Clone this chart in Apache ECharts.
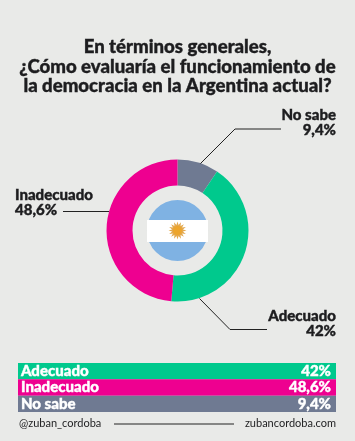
<!DOCTYPE html>
<html>
<head>
<meta charset="utf-8">
<script src="https://cdn.jsdelivr.net/npm/echarts@6/dist/echarts.min.js"></script>
<style>
html, body { margin: 0; padding: 0; background: #e9eae8; }
#main { width: 355px; height: 441px; }
</style>
</head>
<body>
<div id="main"></div>
<script>
const titleLines = ['En términos generales,', '¿Cómo evaluaría el funcionamiento de', 'la democracia en la Argentina actual?'];
const categories = ['Adecuado', 'Inadecuado', 'No sabe'];
const values = [42, 48.6, 9.4];
const valueLabels = ['42%', '48,6%', '9,4%'];
const colors = ['#00c98d', '#ee0090', '#6f7a92'];
// la dona arranca en "No sabe" y sigue en sentido horario
const pieOrder = [2, 0, 1];
const footerLeft = '@zuban_cordoba';
const footerRight = 'zubancordoba.com';

const font = 'Lato';
const ink = '#1d1d1f';
const cx = 177.5, cy = 230.5;

let myChart = echarts.init(document.getElementById('main'));

function leader(points) {
	return { type: 'polyline', shape: { points: points }, style: { stroke: '#222', lineWidth: 1, fill: null }, z: 5 };
}
function callout(x, y, align, name, val) {
	return {
		type: 'text', x: x, y: y, z: 5,
		style: { text: name + '\n' + val, font: '900 15px ' + font, fill: ink, stroke: ink, lineWidth: 0.4, align: align, lineHeight: 15 }
	};
}
// rayos del sol de la bandera
function sunRays() {
	let pts = [];
	for (let i = 0; i < 32; i++) {
		let a = i * Math.PI / 16, r = i % 2 ? 5.5 : 9;
		pts.push([cx + r * Math.cos(a), cy + r * Math.sin(a)]);
	}
	return pts;
}

let option = {
	backgroundColor: '#e9eae8',
	animation: false,
	grid: { left: 18, right: 19, top: 363, height: 49 },
	xAxis: { type: 'value', min: 0, max: 1, show: false },
	yAxis: { type: 'category', inverse: true, data: categories, show: false },
	series: [
		{
			type: 'pie',
			center: [cx, cy],
			radius: [45, 71],
			startAngle: 90,
			clockwise: true,
			silent: true,
			label: { show: false },
			labelLine: { show: false },
			data: pieOrder.map(i => ({ name: categories[i], value: values[i], itemStyle: { color: colors[i] } }))
		},
		{
			type: 'bar',
			barWidth: '100%',
			barGap: '-100%',
			silent: true,
			data: categories.map((c, i) => ({ value: 1, itemStyle: { color: colors[i] } })),
			label: {
				show: true, position: 'insideLeft', distance: 3,
				formatter: p => categories[p.dataIndex],
				color: '#fff', fontFamily: font, fontWeight: 900, fontSize: 15,
				textBorderColor: '#fff', textBorderWidth: 0.4
			}
		},
		{
			type: 'bar',
			barWidth: '100%',
			barGap: '-100%',
			silent: true,
			data: categories.map(() => 1),
			itemStyle: { color: 'transparent' },
			label: {
				show: true, position: 'insideRight', distance: 5,
				formatter: p => valueLabels[p.dataIndex],
				color: '#fff', fontFamily: font, fontWeight: 900, fontSize: 15,
				textBorderColor: '#fff', textBorderWidth: 0.4
			}
		}
	],
	graphic: [
		{
			type: 'text', x: 177.5, y: 37.5, z: 5,
			style: { text: titleLines.join('\n'), font: '900 18.6px ' + font, fill: ink, stroke: ink, lineWidth: 0.4, align: 'center', lineHeight: 19.4 }
		},
		// bandera
		{ type: 'circle', shape: { cx: cx, cy: cy, r: 30.5 }, style: { fill: '#7fb2e3' } },
		{ type: 'rect', shape: { x: cx - 30.5, y: 220, width: 61, height: 22 }, style: { fill: '#fff' }, z: 1 },
		{ type: 'polygon', shape: { points: sunRays() }, style: { fill: '#e3a94f' }, z: 2 },
		{ type: 'circle', shape: { cx: cx, cy: cy, r: 4.5 }, style: { fill: '#eda52c' }, z: 3 },
		// etiquetas
		leader([[200.5, 163.5], [235, 129], [281, 129]]),
		leader([[199.5, 298.5], [230, 329.5], [267, 329.5]]),
		leader([[63, 211.5], [109, 211.5]]),
		callout(336, 107.5, 'right', categories[2], valueLabels[2]),
		callout(336, 309, 'right', categories[0], valueLabels[0]),
		callout(15, 188, 'left', categories[1], valueLabels[1]),
		// pie de página
		{ type: 'text', x: 19, y: 418, style: { text: footerLeft, font: '400 11px ' + font, fill: ink } },
		{ type: 'text', x: 336, y: 418, style: { text: footerRight, font: '400 11px ' + font, fill: ink, align: 'right' } },
		{ type: 'line', shape: { x1: 114, y1: 424, x2: 234, y2: 424 }, style: { stroke: '#222', lineWidth: 1 } }
	]
};

myChart.setOption(option);
</script>
</body>
</html>
